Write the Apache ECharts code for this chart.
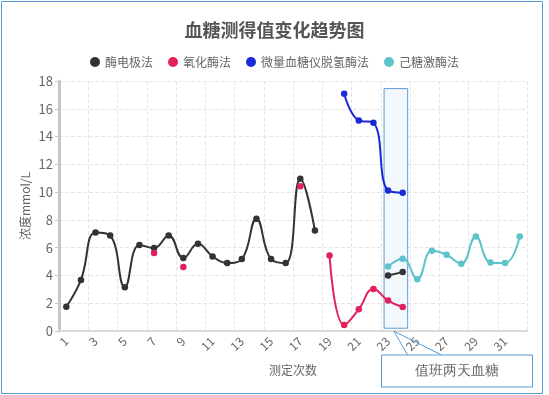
<!DOCTYPE html>
<html><head><meta charset="utf-8">
<script src="https://cdn.jsdelivr.net/npm/echarts@6/dist/echarts.min.js"></script>
<style>html,body{margin:0;padding:0;background:#fff}#c{width:549px;height:395px}</style>
</head><body><div id="c"></div>
<script>
const categories = ['1','2','3','4','5','6','7','8','9','10','11','12','13','14','15','16','17','18','19','20','21','22','23','24','25','26','27','28','29','30','31','32'];
const yTicks = [0,2,4,6,8,10,12,14,16,18];
const seriesNames = ['酶电极法','氧化酶法','微量血糖仪脱氢酶法','己糖激酶法'];
const enzymeElectrode = [1.75,3.68,7.1,6.88,3.15,6.2,5.97,6.88,5.25,6.28,5.37,4.89,5.18,8.09,5.18,4.89,10.97,7.24,null,null,null,null,3.99,4.24,null,null,null,null,null,null,null,null];
const oxidase = [null,null,null,null,null,null,5.61,null,4.6,null,null,null,null,null,null,null,10.42,null,5.44,0.43,1.57,3.03,2.19,1.73,null,null,null,null,null,null,null,null];
const dehydrogenase = [null,null,null,null,null,null,null,null,null,null,null,null,null,null,null,null,null,null,null,17.09,15.16,15.0,10.11,9.96,null,null,null,null,null,null,null,null];
const hexokinase = [null,null,null,null,null,null,null,null,null,null,null,null,null,null,null,null,null,null,null,null,null,null,4.64,5.2,3.73,5.78,5.49,4.84,6.81,4.93,4.89,6.81];
const colors = ['#333333','#e2215b','#1a2ad6','#5ec3cb'];
const noteText = '值班两天血糖';
const noteCats = ['23','24'];

const FONT = '"Noto Sans CJK SC","Microsoft YaHei",sans-serif';
const chart = echarts.init(document.getElementById('c'));
function mk(name, data, color){
  return {name, type:'line', data, smooth:0.45, connectNulls:false,
    symbol:'circle', symbolSize:6.5, showSymbol:true,
    lineStyle:{width:2,color}, itemStyle:{color}, z:3};
}
chart.setOption({
  animation:false,
  color:colors,
  textStyle:{fontFamily:FONT},
  title:{text:'血糖测得值变化趋势图', left:'center', top:16,
    textStyle:{fontSize:18,fontWeight:'bold',color:'#555',fontFamily:FONT}},
  legend:{top:51, left:'center', icon:'circle', itemWidth:10, itemHeight:10, itemGap:15,
    textStyle:{fontSize:12,color:'#666',fontFamily:FONT}, data:seriesNames},
  grid:{left:59, right:22, top:81, bottom:64, containLabel:false},
  xAxis:{type:'category', data:categories, boundaryGap:true,
    name:'测定次数', nameLocation:'middle', nameGap:33, nameMoveOverlap:false,
    nameTextStyle:{fontSize:12,color:'#666',fontFamily:FONT},
    axisLine:{lineStyle:{color:'#d9d9d9',width:2}},
    axisTick:{alignWithLabel:true, interval:1, lineStyle:{color:'#d9d9d9'}},
    axisLabel:{interval:1, rotate:45, fontSize:12, color:'#666', margin:8, fontFamily:FONT},
    splitLine:{show:true, interval:1, lineStyle:{type:'dashed',color:'#e6e6e6'}}},
  yAxis:{type:'value', min:yTicks[0], max:yTicks[yTicks.length-1], interval:2,
    name:'浓度mmol/L', nameLocation:'middle', nameGap:28, nameMoveOverlap:false,
    nameTextStyle:{fontSize:12,color:'#666',fontFamily:FONT},
    axisLine:{show:true, lineStyle:{color:'#c8c8c8',width:3}},
    axisTick:{show:true, length:4, lineStyle:{color:'#c8c8c8'}},
    axisLabel:{fontSize:13, color:'#666', margin:6, fontFamily:FONT},
    splitLine:{show:true, lineStyle:{type:'dashed',color:'#e6e6e6'}}},
  series:[
    mk(seriesNames[0], enzymeElectrode, colors[0]),
    mk(seriesNames[1], oxidase, colors[1]),
    mk(seriesNames[2], dehydrogenase, colors[2]),
    mk(seriesNames[3], hexokinase, colors[3])
  ]
});
const xa = chart.convertToPixel({xAxisIndex:0}, noteCats[0]);
const xb = chart.convertToPixel({xAxisIndex:0}, noteCats[1]);
const yTop = chart.convertToPixel({yAxisIndex:0}, 17.45);
const yBot = chart.convertToPixel({yAxisIndex:0}, 0.2);
const rx = xa - 4, rw = (xb + 5) - rx;
const lx = (xa + xb) / 2 - 1.5;
chart.setOption({graphic:[
  {type:'rect', z:1, shape:{x:1.5,y:1.5,width:541,height:392}, style:{fill:null, stroke:'#5b9bd5', lineWidth:1}},
  {type:'rect', z:1, shape:{x:rx,y:yTop,width:rw,height:yBot-yTop}, style:{fill:'#f3f8fd', stroke:'#5b9bd5', lineWidth:1}},
  {type:'polyline', z:10, shape:{points:[[xb+5,355],[lx,yBot+3],[441.5,355]]}, style:{fill:null, stroke:'#5b9bd5', lineWidth:1}},
  {type:'rect', z:10, shape:{x:381.5,y:355,width:151,height:32}, style:{fill:'#fff', stroke:'#5b9bd5', lineWidth:1}},
  {type:'text', z:11, x:457, y:371, style:{text:noteText, fontSize:14, fill:'#666', font:'14px '+FONT, align:'center', verticalAlign:'middle'}}
]});
</script></body></html>
